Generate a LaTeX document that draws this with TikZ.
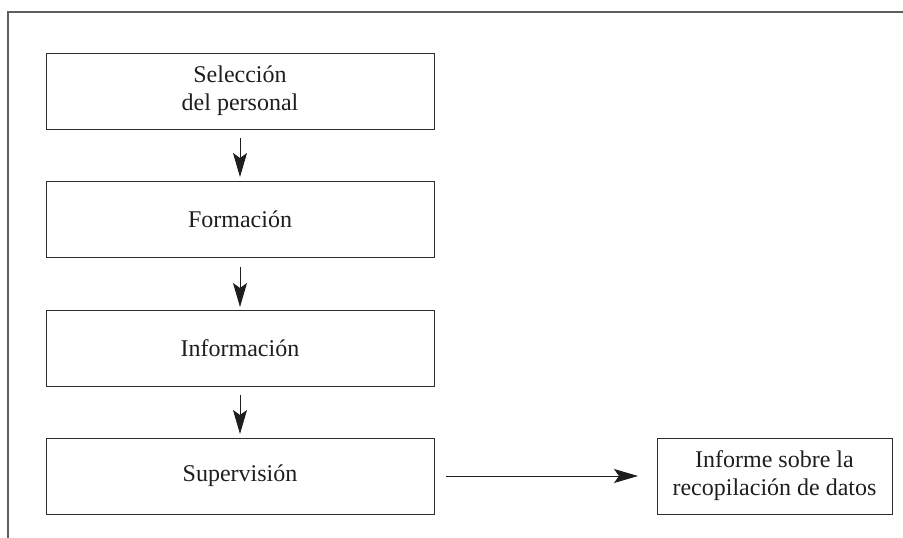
\documentclass[tikz,border=0pt]{standalone}
\usepackage{fontspec}
\setmainfont{Liberation Serif}
\usetikzlibrary{arrows.meta}
\definecolor{framegray}{RGB}{95,95,95}
\definecolor{boxline}{RGB}{45,45,45}
\definecolor{inkcol}{RGB}{30,30,30}
\tikzset{
  stepbox/.style={draw=boxline, line width=1pt, rectangle, inner sep=0pt, outer sep=0pt,
    minimum width=388pt, minimum height=76pt, align=center, text=inkcol,
    font=\fontsize{24}{28}\selectfont},
  sidebox/.style={stepbox, minimum width=235pt},
  flow/.style={draw=inkcol, line width=1pt,
    -{Stealth[length=24pt, width=14pt, inset=5pt]}},
  pageframe/.style={draw=framegray, line width=1.4pt}
}
\begin{document}
\begin{tikzpicture}[x=1pt, y=-1pt]
  \useasboundingbox (0,0) rectangle (903,538);
  % open frame: left and top rules
  \draw[pageframe] (8,538) -- (8,12) -- (903,12);

  % process steps
  \node[stepbox] (sel)  at (240,91)  {Selección\\del personal};
  \node[stepbox] (form) at (240,219) {Formación};
  \node[stepbox] (info) at (240,348) {Información};
  \node[stepbox] (sup)  at (240,476) {Supervisión};
  \node[sidebox] (inf)  at (774.5,476) {Informe sobre la\\recopilación de datos};

  % connectors
  \draw[flow, shorten <=9pt, shorten >=4pt] (sel) -- (form);
  \draw[flow, shorten <=10pt, shorten >=3pt] (form) -- (info);
  \draw[flow, shorten <=9pt, shorten >=4pt] (info) -- (sup);
  \draw[flow, shorten <=12pt, shorten >=19pt] (sup) -- (inf);
\end{tikzpicture}
\end{document}
